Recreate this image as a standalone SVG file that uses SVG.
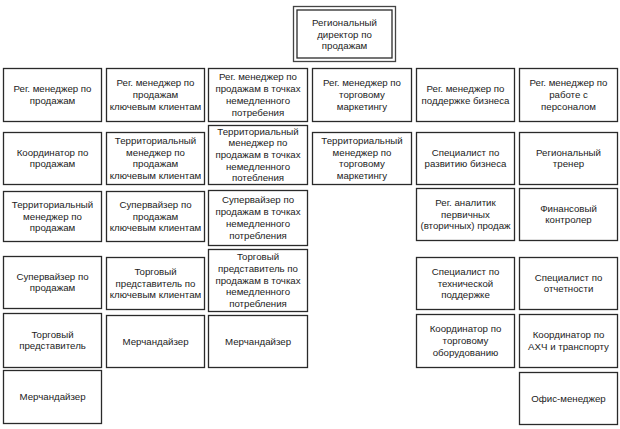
<svg xmlns="http://www.w3.org/2000/svg" width="620" height="429" viewBox="0 0 620 429">
<style>
  .box { fill: #ffffff; stroke: #2a2a2a; stroke-width: 1.3; }
  .outer { fill: #ffffff; stroke: #444444; stroke-width: 1.3; }
  .inner { fill: none; stroke: #2a2a2a; stroke-width: 1.3; }
  text { font-family: "Liberation Sans", Arial, sans-serif; font-size: 9.7px; fill: #222222; text-anchor: middle; }
</style>
<rect width="620" height="429" fill="#ffffff"/>
<g id="connectors"/>

<g id="director">
  <rect class="outer" x="293.5" y="6.5" width="102" height="55"/>
  <rect class="inner" x="297" y="10" width="95" height="48"/>
  <text x="344.5" y="25.8"><tspan x="344.5">Региональный</tspan><tspan x="344.5" dy="11.7">директор по</tspan><tspan x="344.5" dy="11.7">продажам</tspan></text>
</g>

<!-- Row 1 -->
<g id="r1c1">
  <rect class="box" x="3.5" y="68.5" width="98" height="53"/>
  <text x="52.5" y="92.15"><tspan x="52.5">Рег. менеджер по</tspan><tspan x="52.5" dy="11.7">продажам</tspan></text>
</g>
<g id="r1c2">
  <rect class="box" x="106.5" y="68.5" width="98" height="53"/>
  <text x="155.5" y="86.3"><tspan x="155.5">Рег. менеджер по</tspan><tspan x="155.5" dy="11.7">продажам</tspan><tspan x="155.5" dy="11.7">ключевым клиентам</tspan></text>
</g>
<g id="r1c3">
  <rect class="box" x="208.5" y="68.5" width="99" height="53"/>
  <text x="258" y="80.45"><tspan x="258">Рег. менеджер по</tspan><tspan x="258" dy="11.7">продажам в точках</tspan><tspan x="258" dy="11.7">немедленного</tspan><tspan x="258" dy="11.7">потребения</tspan></text>
</g>
<g id="r1c4">
  <rect class="box" x="312.5" y="68.5" width="99" height="53"/>
  <text x="362" y="86.3"><tspan x="362">Рег. менеджер по</tspan><tspan x="362" dy="11.7">торговому</tspan><tspan x="362" dy="11.7">маркетингу</tspan></text>
</g>
<g id="r1c5">
  <rect class="box" x="416.5" y="68.5" width="98" height="53"/>
  <text x="465.5" y="92.15"><tspan x="465.5">Рег. менеджер по</tspan><tspan x="465.5" dy="11.7">поддержке бизнеса</tspan></text>
</g>
<g id="r1c6">
  <rect class="box" x="519.5" y="68.5" width="98" height="53"/>
  <text x="568.5" y="86.3"><tspan x="568.5">Рег. менеджер по</tspan><tspan x="568.5" dy="11.7">работе с</tspan><tspan x="568.5" dy="11.7">персоналом</tspan></text>
</g>

<!-- Row 2 -->
<g id="r2c1">
  <rect class="box" x="3.5" y="132.5" width="98" height="52"/>
  <text x="52.5" y="155.65"><tspan x="52.5">Координатор по</tspan><tspan x="52.5" dy="11.7">продажам</tspan></text>
</g>
<g id="r2c2">
  <rect class="box" x="106.5" y="132.5" width="98" height="52"/>
  <text x="155.5" y="143.95"><tspan x="155.5">Территориальный</tspan><tspan x="155.5" dy="11.7">менеджер по</tspan><tspan x="155.5" dy="11.7">продажам</tspan><tspan x="155.5" dy="11.7">ключевым клиентам</tspan></text>
</g>
<g id="r2c3">
  <rect class="box" x="208.5" y="125.5" width="99" height="59"/>
  <text x="258" y="134.6"><tspan x="258">Территориальный</tspan><tspan x="258" dy="11.7">менеджер по</tspan><tspan x="258" dy="11.7">продажам в точках</tspan><tspan x="258" dy="11.7">немедленного</tspan><tspan x="258" dy="11.7">потебления</tspan></text>
</g>
<g id="r2c4">
  <rect class="box" x="312.5" y="132.5" width="99" height="52"/>
  <text x="362" y="143.95"><tspan x="362">Территориальный</tspan><tspan x="362" dy="11.7">менеджер по</tspan><tspan x="362" dy="11.7">торговому</tspan><tspan x="362" dy="11.7">маркетингу</tspan></text>
</g>
<g id="r2c5">
  <rect class="box" x="416.5" y="132.5" width="98" height="52"/>
  <text x="465.5" y="155.65"><tspan x="465.5">Специалист по</tspan><tspan x="465.5" dy="11.7">развитию бизнеса</tspan></text>
</g>
<g id="r2c6">
  <rect class="box" x="519.5" y="132.5" width="98" height="52"/>
  <text x="568.5" y="155.65"><tspan x="568.5">Региональный</tspan><tspan x="568.5" dy="11.7">тренер</tspan></text>
</g>

<!-- Row 3 -->
<g id="r3c1">
  <rect class="box" x="3.5" y="191.5" width="98" height="50"/>
  <text x="52.5" y="207.8"><tspan x="52.5">Территориальный</tspan><tspan x="52.5" dy="11.7">менеджер по</tspan><tspan x="52.5" dy="11.7">продажам</tspan></text>
</g>
<g id="r3c2">
  <rect class="box" x="106.5" y="191.5" width="98" height="50"/>
  <text x="155.5" y="207.8"><tspan x="155.5">Супервайзер по</tspan><tspan x="155.5" dy="11.7">продажам</tspan><tspan x="155.5" dy="11.7">ключевым клиентам</tspan></text>
</g>
<g id="r3c3">
  <rect class="box" x="208.5" y="190.5" width="99" height="55"/>
  <text x="258" y="203.45"><tspan x="258">Супервайзер по</tspan><tspan x="258" dy="11.7">продажам в точках</tspan><tspan x="258" dy="11.7">немедленного</tspan><tspan x="258" dy="11.7">потребления</tspan></text>
</g>
<g id="r3c5">
  <rect class="box" x="416.5" y="188.5" width="98" height="52"/>
  <text x="465.5" y="205.8"><tspan x="465.5">Рег. аналитик</tspan><tspan x="465.5" dy="11.7">первичных</tspan><tspan x="465.5" dy="11.7">(вторичных) продаж</tspan></text>
</g>
<g id="r3c6">
  <rect class="box" x="519.5" y="188.5" width="98" height="52"/>
  <text x="568.5" y="211.65"><tspan x="568.5">Финансовый</tspan><tspan x="568.5" dy="11.7">контролер</tspan></text>
</g>

<!-- Row 4 -->
<g id="r4c1">
  <rect class="box" x="3.5" y="256.5" width="98" height="52"/>
  <text x="52.5" y="279.65"><tspan x="52.5">Супервайзер по</tspan><tspan x="52.5" dy="11.7">продажам</tspan></text>
</g>
<g id="r4c2">
  <rect class="box" x="106.5" y="257.5" width="98" height="52"/>
  <text x="155.5" y="274.8"><tspan x="155.5">Торговый</tspan><tspan x="155.5" dy="11.7">представитель по</tspan><tspan x="155.5" dy="11.7">ключевым клиентам</tspan></text>
</g>
<g id="r4c3">
  <rect class="box" x="208.5" y="249.5" width="99" height="62"/>
  <text x="258" y="260.1"><tspan x="258">Торговый</tspan><tspan x="258" dy="11.7">представитель по</tspan><tspan x="258" dy="11.7">продажам в точках</tspan><tspan x="258" dy="11.7">немедленного</tspan><tspan x="258" dy="11.7">потребления</tspan></text>
</g>
<g id="r4c5">
  <rect class="box" x="416.5" y="257.5" width="98" height="52"/>
  <text x="465.5" y="274.8"><tspan x="465.5">Специалист по</tspan><tspan x="465.5" dy="11.7">технической</tspan><tspan x="465.5" dy="11.7">поддержке</tspan></text>
</g>
<g id="r4c6">
  <rect class="box" x="519.5" y="257.5" width="98" height="52"/>
  <text x="568.5" y="280.65"><tspan x="568.5">Специалист по</tspan><tspan x="568.5" dy="11.7">отчетности</tspan></text>
</g>

<!-- Row 5 -->
<g id="r5c1">
  <rect class="box" x="3.5" y="313.5" width="98" height="54"/>
  <text x="52.5" y="337.65"><tspan x="52.5">Торговый</tspan><tspan x="52.5" dy="11.7">представитель</tspan></text>
</g>
<g id="r5c2">
  <rect class="box" x="106.5" y="315.5" width="98" height="52"/>
  <text x="155.5" y="344.5">Мерчандайзер</text>
</g>
<g id="r5c3">
  <rect class="box" x="208.5" y="315.5" width="99" height="52"/>
  <text x="258" y="344.5">Мерчандайзер</text>
</g>
<g id="r5c5">
  <rect class="box" x="416.5" y="314.5" width="98" height="53"/>
  <text x="465.5" y="332.3"><tspan x="465.5">Координатор по</tspan><tspan x="465.5" dy="11.7">торговому</tspan><tspan x="465.5" dy="11.7">оборудованию</tspan></text>
</g>
<g id="r5c6">
  <rect class="box" x="519.5" y="314.5" width="98" height="53"/>
  <text x="568.5" y="338.15"><tspan x="568.5">Координатор по</tspan><tspan x="568.5" dy="11.7">АХЧ и транспорту</tspan></text>
</g>

<!-- Row 6 -->
<g id="r6c1">
  <rect class="box" x="3.5" y="370.5" width="98" height="53"/>
  <text x="52.5" y="400">Мерчандайзер</text>
</g>
<g id="r6c6">
  <rect class="box" x="519.5" y="372.5" width="98" height="52"/>
  <text x="568.5" y="401.5">Офис-менеджер</text>
</g>
</svg>
